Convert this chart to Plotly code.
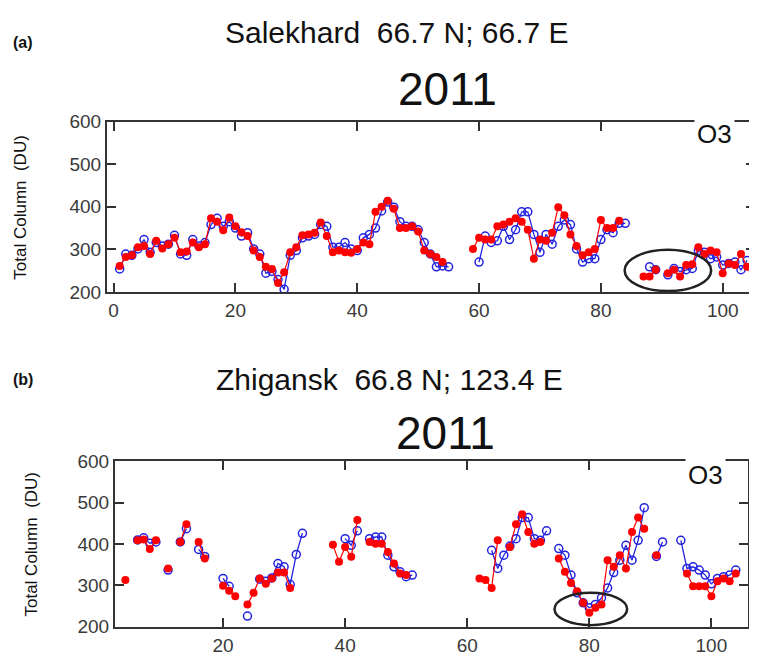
import plotly.graph_objects as go

days = list(range(1, 105))

# ---- Panel (a) Salekhard: total column O3 (DU), day 1..104 ----
sal_red = [
    261, 282, 286, 305, 308, 289, 320, 302, 312, 327,
    293, 295, 316, 305, 312, 373, 365, 345, 375, 354,
    340, 331, 297, 282, 259, 254, 221, 246, 293, 305,
    333, 335, 339, 363, 331, 293, 297, 293, 292, 301,
    316, 312, 388, 400, 414, 395, 350, 350, 354, 342,
    297, 289, 282, 270, None, None, None, None, 301, 327,
    323, 323, 354, 358, 365, 373, 365, 346, 278, 323,
    320, 339, 399, 380, 335, 308, 286, 293, 301, 369,
    350, 350, 367, None, None, None, 236, 236, 252, None,
    244, 252, 236, 263, 265, 305, 289, 297, 293, 244,
    267, 263, 289, 259,
]
sal_blue = [
    254, 289, 286, 301, 323, 293, 316, 308, 312, 333,
    289, 286, 323, 308, 316, 358, 373, 354, 365, 350,
    331, 339, 301, 289, 244, 248, 229, 206, 286, 297,
    327, 331, 335, 358, 354, 305, 305, 316, 301, 297,
    327, 335, 350, 390, 411, 399, 365, 354, 354, 346,
    316, 289, 259, 261, 259, None, None, None, None, 270,
    331, 316, 320, 354, 323, 346, 388, 388, 335, 293,
    335, 312, 354, 369, 358, 301, 270, 278, 278, 323,
    346, 339, 361, 361, None, None, None, 259, 252, None,
    240, 255, 248, 252, 255, 297, 293, 278, 282, 263,
    267, 270, 252, 274,
]

# ---- Panel (b) Zhigansk ----
zhi_red = [
    None, None, None, 313, None, 409, 411, 388, 409, None,
    341, None, 405, 448, None, 405, 365, None, None, 299,
    287, 274, None, 254, 282, 317, 304, 317, 331, 331,
    294, None, None, None, None, None, None, 398, 357, 393,
    369, 458, None, 405, 401, 401, 381, 353, 329, 325,
    None, None, None, None, None, None, None, None, None, None,
    None, 317, 313, 294, 409, None, 393, 448, 472, 429,
    401, 405, None, None, 365, 333, 306, 286, 258, 234,
    246, 254, 361, 345, 373, 341, 429, 464, 437, None,
    373, None, None, None, None, 329, 298, 298, 298, 274,
    310, 317, 310, 329,
]
zhi_blue = [
    None, None, None, None, None, 410, 415, 402, 405, None,
    337, None, 405, 437, None, 387, 370, None, None, 317,
    298, None, None, 226, None, 315, 310, 318, 353, 345,
    302, 375, 426, None, None, None, None, None, None, 413,
    397, 432, None, 413, 417, 417, 373, 345, 333, 321,
    325, None, None, None, None, None, None, None, None, None,
    None, None, None, 385, 341, 373, 395, 413, 464, 464,
    413, 409, 432, None, 389, 373, 325, 282, 258, 246,
    254, 270, 294, 331, 361, 397, 361, 409, 488, None,
    370, 405, None, None, 409, 341, 345, 337, 325, 304,
    317, 321, 325, 337,
]

x_ticks_a = [0, 20, 40, 60, 80, 100]
x_ticks_b = [20, 40, 60, 80, 100]
y_ticks = [200, 300, 400, 500, 600]

RED = "#ff0000"
BLUE = "rgb(35,35,225)"
TXT = "#3a3a3a"
SANS = "Liberation Sans, Arial, sans-serif"

# page body has an 8px default margin: the figure fills the rest of the window
OFF = 8
W, H = 757 - OFF, 662 - OFF


def px(x):
    return (x - OFF) / W


def py(y):
    return 1 - (y - OFF) / H


fig = go.Figure()


def add_pair(red, blue, xa, ya):
    fig.add_trace(go.Scatter(
        x=days, y=blue, xaxis=xa, yaxis=ya, mode="lines+markers",
        line=dict(color=BLUE, width=1.3),
        marker=dict(symbol="circle-open", size=8, color=BLUE, line=dict(width=1.5)),
        connectgaps=False, showlegend=False, hoverinfo="x+y"))
    fig.add_trace(go.Scatter(
        x=days, y=red, xaxis=xa, yaxis=ya, mode="lines+markers",
        line=dict(color=RED, width=1.2),
        marker=dict(symbol="circle", size=8, color=RED),
        connectgaps=False, showlegend=False, hoverinfo="x+y"))


add_pair(sal_red, sal_blue, "x", "y")
add_pair(zhi_red, zhi_blue, "x2", "y2")

axis_common = dict(
    showline=True, linecolor="#333333", linewidth=2, mirror="ticks",
    ticks="inside", ticklen=9, tickwidth=2, tickcolor="#333333",
    showgrid=False, zeroline=False,
    tickfont=dict(family=SANS, size=19, color=TXT),
)

fig.update_layout(
    width=W, height=H, margin=dict(l=0, r=0, t=0, b=0),
    plot_bgcolor="white", paper_bgcolor="white",
    xaxis=dict(domain=[px(107), px(755)], range=[-1.08, 105.3],
               tickvals=x_ticks_a, anchor="y", **axis_common),
    yaxis=dict(domain=[py(291), py(115)], range=[200, 600],
               tickvals=y_ticks, anchor="x", **axis_common),
    xaxis2=dict(domain=[px(115), px(748)], range=[2.3, 106],
                tickvals=x_ticks_b, anchor="y2", **axis_common),
    yaxis2=dict(domain=[py(637), py(466)], range=[200, 600],
                tickvals=y_ticks, anchor="x2", **axis_common),
)

# ellipses marking low-ozone episodes
fig.add_shape(type="circle", xref="x", yref="y", x0=83.9, x1=98.1, y0=202, y1=299,
              line=dict(color="#222222", width=2.5))
fig.add_shape(type="circle", xref="x2", yref="y2", x0=74.3, x1=86.2, y0=204, y1=282,
              line=dict(color="#222222", width=2.5))


def ann(text, x, y, size, bold=False, xanchor="center", **kw):
    fig.add_annotation(
        text=f"<b>{text}</b>" if bold else text, xref="paper", yref="paper",
        x=px(x), y=py(y), xanchor=xanchor, yanchor="middle", showarrow=False,
        font=dict(family=SANS, size=size, color="#111111"), **kw)


ann("(a)", 11, 33, 16, bold=True, xanchor="left")
ann("Salekhard&nbsp;&nbsp;66.7 N; 66.7 E", 397, 23, 30)
ann("2011", 447, 81, 46)
ann("O3", 714, 128, 26, bgcolor="white", borderpad=2)
ann("Total Column&nbsp;&nbsp;(DU)", 21, 204, 17, textangle=-90)

ann("(b)", 11, 382, 16, bold=True, xanchor="left")
ann("Zhigansk&nbsp;&nbsp;66.8 N; 123.4 E", 389, 382, 30)
ann("2011", 445, 437, 46)
ann("O3", 705, 480, 26, bgcolor="white", borderpad=2)
ann("Total Column&nbsp;&nbsp;(DU)", 32, 552, 17, textangle=-90)

fig.write_html("out.html")
